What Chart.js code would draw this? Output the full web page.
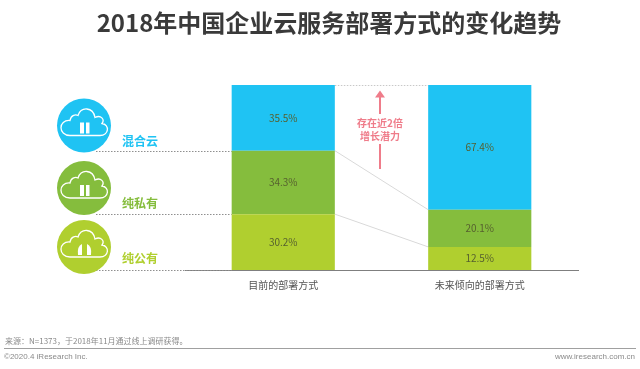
<!DOCTYPE html>
<html><head><meta charset="utf-8">
<script src="https://cdn.jsdelivr.net/npm/chart.js@4"></script>
<style>html,body{margin:0;padding:0;background:#fff}#w{position:relative;width:640px;height:369px;overflow:hidden;font-family:"Noto Sans CJK SC",sans-serif}canvas{position:absolute;left:0;top:0}</style>
</head><body><div id="w"><canvas id="c" width="640" height="369"></canvas></div>
<script>
const categories=['目前的部署方式','未来倾向的部署方式'];
const seriesNames=['纯公有','纯私有','混合云'];
const publicCloud=[30.2,12.5];
const privateCloud=[34.3,20.1];
const hybridCloud=[35.5,67.4];
const colors=['#b0cf2f','#85bd3d','#1fc3f3'];
const title='2018年中国企业云服务部署方式的变化趋势';
const source='来源：N=1373，于2018年11月通过线上调研获得。';
const copyright='©2020.4 iResearch Inc.';
const site='www.iresearch.com.cn';
const FONT='"Noto Sans CJK SC",sans-serif';

function cloud(ctx,cx,cy,kind){
  ctx.save();ctx.strokeStyle='#fff';ctx.fillStyle='#fff';ctx.lineWidth=1.3;
  ctx.beginPath();
  ctx.moveTo(cx-14,cy+10);
  ctx.bezierCurveTo(cx-26,cy+10,cx-26,cy-6,cx-14,cy-5);
  ctx.bezierCurveTo(cx-13,cy-11,cx-8,cy-11,cx-6,cy-10);
  ctx.bezierCurveTo(cx-3,cy-19,cx+9,cy-19,cx+11,cy-8);
  ctx.bezierCurveTo(cx+17,cy-11,cx+21,cy-6,cx+18,cy-2);
  ctx.bezierCurveTo(cx+26,cy-1,cx+25,cy+10,cx+16,cy+10);
  ctx.closePath();ctx.stroke();
  if(kind==='split'){
    ctx.beginPath();ctx.moveTo(cx-6,cy+8);ctx.lineTo(cx-2,cy+8);ctx.lineTo(cx-2,cy-3);ctx.quadraticCurveTo(cx-7,cy-1,cx-6,cy+8);ctx.fill();
    ctx.beginPath();ctx.moveTo(cx+3,cy+8);ctx.lineTo(cx+7,cy+8);ctx.quadraticCurveTo(cx+8,cy-1,cx+3,cy-3);ctx.fill();
  }else{
    ctx.fillRect(cx-4,cy-3,4,11);ctx.fillRect(cx+2,cy-3,3.5,11);
  }
  ctx.restore();
}
const deco={id:'deco',
  beforeDatasetsDraw(chart){
    const ctx=chart.ctx,x=chart.scales.x,y=chart.scales.y;
    const b0=chart.getDatasetMeta(0).data[0],b1=chart.getDatasetMeta(0).data[1];
    const lx=b0.x+b0.width/2,rx=b1.x-b1.width/2;
    ctx.save();ctx.strokeStyle='#8f8f8f';ctx.lineWidth=1;ctx.setLineDash([1.5,1.5]);
    [publicCloud[0]+privateCloud[0],publicCloud[0],0].forEach(v=>{
      const p=Math.round(y.getPixelForValue(v))+.5;
      ctx.beginPath();ctx.moveTo(96,p);ctx.lineTo(b0.x-b0.width/2,p);ctx.stroke();
    });
    ctx.strokeStyle='#c8c8c8';
    ctx.beginPath();ctx.moveTo(lx,85.5);ctx.lineTo(rx,85.5);ctx.stroke();
    ctx.setLineDash([]);ctx.strokeStyle='#d9d9d9';ctx.lineWidth=1;
    [[publicCloud[0],publicCloud[1]],[publicCloud[0]+privateCloud[0],publicCloud[1]+privateCloud[1]]].forEach(a=>{
      ctx.beginPath();ctx.moveTo(lx,y.getPixelForValue(a[0]));ctx.lineTo(rx,y.getPixelForValue(a[1]));ctx.stroke();
    });
    ctx.restore();
  },
  afterDraw(chart){
    const ctx=chart.ctx;
    ctx.save();
    ctx.fillStyle='#3a3a3a';ctx.font='bold 24px '+FONT;ctx.textAlign='center';ctx.textBaseline='middle';
    ctx.fillText(title,329,23);
    [[84,125.5,colors[2],'bars'],[84,188,colors[1],'bars'],[84,247,colors[0],'split']].forEach(i=>{
      ctx.fillStyle=i[2];ctx.beginPath();ctx.arc(i[0],i[1],27,0,Math.PI*2);ctx.fill();
      cloud(ctx,i[0],i[1],i[3]);
    });
    ctx.font='bold 12px '+FONT;ctx.textAlign='left';
    ctx.fillStyle=colors[2];ctx.fillText(seriesNames[2],122,141.5);
    ctx.fillStyle=colors[1];ctx.fillText(seriesNames[1],122,203);
    ctx.fillStyle=colors[0];ctx.fillText(seriesNames[0],122,258.5);
    ctx.fillStyle='#ef7c8a';ctx.strokeStyle='#ef7c8a';ctx.textAlign='center';
    ctx.font='bold 10px '+FONT;
    ctx.fillText('存在近2倍',380,123);ctx.fillText('增长潜力',380,136);
    ctx.lineWidth=2;
    ctx.beginPath();ctx.moveTo(380,114);ctx.lineTo(380,96);ctx.stroke();
    ctx.beginPath();ctx.moveTo(380,90.5);ctx.lineTo(385,97.5);ctx.lineTo(375,97.5);ctx.closePath();ctx.fill();
    ctx.beginPath();ctx.moveTo(380,144);ctx.lineTo(380,169);ctx.stroke();
    ctx.fillStyle='#8a8a8a';ctx.textAlign='left';ctx.font='8px '+FONT;
    ctx.fillText(source,5,341);
    ctx.strokeStyle='#a0a0a0';ctx.lineWidth=1;ctx.beginPath();ctx.moveTo(4,348.5);ctx.lineTo(636,348.5);ctx.stroke();
    ctx.font='8px "Liberation Sans",sans-serif';
    ctx.fillText(copyright,4,357);
    ctx.textAlign='right';ctx.fillText(site,635,357);
    ctx.restore();
  }
};
const labelPlugin={id:'vals',afterDatasetsDraw(chart){
  const ctx=chart.ctx;ctx.save();ctx.fillStyle='#56602f';ctx.font='10px '+FONT;ctx.textAlign='center';ctx.textBaseline='middle';
  chart.data.datasets.forEach((d,i)=>chart.getDatasetMeta(i).data.forEach((b,j)=>{
    const p=b.getProps(['x','y','base'],true);
    ctx.fillText(d.data[j].toFixed(1)+'%',p.x,(p.y+p.base)/2);
  }));
  ctx.restore();
}};
new Chart(document.getElementById('c'),{
  type:'bar',
  data:{labels:categories,datasets:[
    {label:seriesNames[0],data:publicCloud,backgroundColor:colors[0]},
    {label:seriesNames[1],data:privateCloud,backgroundColor:colors[1]},
    {label:seriesNames[2],data:hybridCloud,backgroundColor:colors[2]}
  ]},
  options:{responsive:false,animation:false,
    layout:{padding:{left:185,right:62,top:85,bottom:69}},
    datasets:{bar:{categoryPercentage:1,barPercentage:0.525}},
    plugins:{legend:{display:false},tooltip:{enabled:false}},
    scales:{
      x:{stacked:true,position:'bottom',grid:{display:false,drawTicks:false},border:{color:'#7f7f7f',width:1},
         ticks:{color:'#555',font:{size:10,family:FONT},padding:9,maxRotation:0}},
      y:{stacked:true,min:0,max:100,display:false}
    }
  },
  plugins:[deco,labelPlugin]
});
</script></body></html>
